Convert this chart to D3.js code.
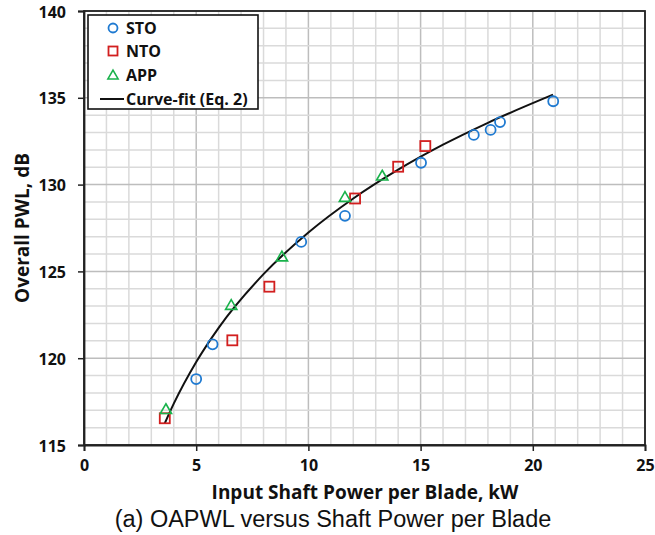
<!DOCTYPE html>
<html><head><meta charset="utf-8">
<script src="https://cdn.jsdelivr.net/npm/d3@7"></script>
<style>body{margin:0;background:#fff;} svg{display:block;}</style>
</head><body>
<svg id="chart" width="655" height="535"></svg>
<script>
// Data
const stoX = [5.0, 5.73, 9.68, 11.63, 15.02, 17.37, 18.12, 18.54, 20.91];
const stoY = [118.8, 120.8, 126.7, 128.2, 131.26, 132.86, 133.15, 133.6, 134.8];
const ntoX = [3.6, 6.61, 8.26, 12.08, 14.0, 15.21];
const ntoY = [116.54, 121.03, 124.12, 129.2, 131.03, 132.22];
const appX = [3.65, 6.56, 8.82, 11.63, 13.29];
const appY = [117.06, 123.06, 125.85, 129.28, 130.51];
const fitX = [3.6, 4, 5, 6, 8, 10, 12, 14, 16, 18, 20.9];
const fitY = [116.25, 117.38, 119.78, 121.75, 124.84, 127.24, 129.2, 130.86, 132.3, 133.56, 135.18];
const xTicks = [0, 5, 10, 15, 20, 25];
const yTicks = [115, 120, 125, 130, 135, 140];
const legendLabels = ["STO", "NTO", "APP", "Curve-fit (Eq. 2)"];

const svg = d3.select("#chart");
const L = 84, R = 645, T = 11, B = 445;
const x = d3.scaleLinear().domain([0, 25]).range([L, R]);
const y = d3.scaleLinear().domain([115, 140]).range([B, T]);
const boldFont = "'Open Sans', sans-serif";

// grid
const g = svg.append("g");
d3.range(0, 26, 1).forEach(v => {
  g.append("line").attr("x1", x(v)).attr("x2", x(v)).attr("y1", T).attr("y2", B)
    .attr("stroke", v % 5 === 0 ? "#bdbdbd" : "#dadada").attr("stroke-width", 1.5);
});
d3.range(115, 141, 1).forEach(v => {
  g.append("line").attr("y1", y(v)).attr("y2", y(v)).attr("x1", L).attr("x2", R)
    .attr("stroke", v % 5 === 0 ? "#bdbdbd" : "#dadada").attr("stroke-width", 1.5);
});

// frame
svg.append("rect").attr("x", L).attr("y", T).attr("width", R - L).attr("height", B - T)
  .attr("fill", "none").attr("stroke", "#222").attr("stroke-width", 1.8);

// axes
const xAxis = svg.append("g").attr("transform", `translate(0,${B})`)
  .call(d3.axisBottom(x).tickValues(xTicks).tickSize(6).tickPadding(9));
const yAxis = svg.append("g").attr("transform", `translate(${L},0)`)
  .call(d3.axisLeft(y).tickValues(yTicks).tickSize(6).tickPadding(12));
[xAxis, yAxis].forEach(a => {
  a.select(".domain").attr("stroke", "#222").attr("stroke-width", 1.8);
  a.selectAll(".tick line").attr("stroke", "#222").attr("stroke-width", 1.5);
  a.selectAll(".tick text").attr("font-family", boldFont).attr("font-weight", "bold")
    .attr("font-size", 16).attr("fill", "#111");
});
yAxis.selectAll(".tick text").attr("dy", "0.38em");

// curve
const pts = fitX.map((v, i) => [v, fitY[i]]);
svg.append("path").datum(pts)
  .attr("d", d3.line().x(d => x(d[0])).y(d => y(d[1])).curve(d3.curveMonotoneX))
  .attr("fill", "none").attr("stroke", "#111").attr("stroke-width", 2);

const blue = "#1f7ad1", red = "#d21f1f", green = "#19b24b";
const tri = d3.symbol().type(d3.symbolTriangle).size(55);

// markers
svg.append("g").selectAll("circle").data(stoX.map((v, i) => [v, stoY[i]])).join("circle")
  .attr("cx", d => x(d[0])).attr("cy", d => y(d[1])).attr("r", 5)
  .attr("fill", "none").attr("stroke", blue).attr("stroke-width", 1.8);
svg.append("g").selectAll("rect").data(ntoX.map((v, i) => [v, ntoY[i]])).join("rect")
  .attr("x", d => x(d[0]) - 5).attr("y", d => y(d[1]) - 5).attr("width", 10).attr("height", 10)
  .attr("fill", "none").attr("stroke", red).attr("stroke-width", 1.8);
svg.append("g").selectAll("path").data(appX.map((v, i) => [v, appY[i]])).join("path")
  .attr("transform", d => `translate(${x(d[0])},${y(d[1]) + 1})`).attr("d", tri)
  .attr("fill", "none").attr("stroke", green).attr("stroke-width", 1.6);

// legend
const lg = svg.append("g");
lg.append("rect").attr("x", 88).attr("y", 15).attr("width", 170).attr("height", 94)
  .attr("fill", "#fff").attr("stroke", "#111").attr("stroke-width", 1.6);
const rowY = [28, 51, 75, 99];
lg.append("circle").attr("cx", 113).attr("cy", rowY[0]).attr("r", 4.5)
  .attr("fill", "none").attr("stroke", blue).attr("stroke-width", 1.8);
lg.append("rect").attr("x", 108.5).attr("y", rowY[1] - 4.5).attr("width", 9).attr("height", 9)
  .attr("fill", "none").attr("stroke", red).attr("stroke-width", 1.8);
lg.append("path").attr("transform", `translate(113,${rowY[2] + 1})`)
  .attr("d", d3.symbol().type(d3.symbolTriangle).size(45))
  .attr("fill", "none").attr("stroke", green).attr("stroke-width", 1.6);
lg.append("line").attr("x1", 100).attr("x2", 124).attr("y1", rowY[3]).attr("y2", rowY[3])
  .attr("stroke", "#111").attr("stroke-width", 2);
legendLabels.forEach((t, i) => {
  lg.append("text").attr("x", 126).attr("y", rowY[i]).attr("dy", "0.36em")
    .attr("font-family", boldFont).attr("font-weight", "bold").attr("font-size", 16)
    .attr("fill", "#111").text(t);
});

// titles
svg.append("text").attr("x", 365).attr("y", 498.5).attr("text-anchor", "middle")
  .attr("font-family", boldFont).attr("font-weight", "bold").attr("font-size", 19)
  .attr("fill", "#111").text("Input Shaft Power per Blade, kW");
svg.append("text").attr("transform", "translate(29,228) rotate(-90)").attr("text-anchor", "middle")
  .attr("font-family", boldFont).attr("font-weight", "bold").attr("font-size", 19)
  .attr("fill", "#111").text("Overall PWL, dB");
svg.append("text").attr("x", 333).attr("y", 527).attr("text-anchor", "middle")
  .attr("font-family", "'Liberation Sans', Arial, sans-serif").attr("font-size", 23.5)
  .attr("fill", "#111").text("(a) OAPWL versus Shaft Power per Blade");
</script>
</body></html>
